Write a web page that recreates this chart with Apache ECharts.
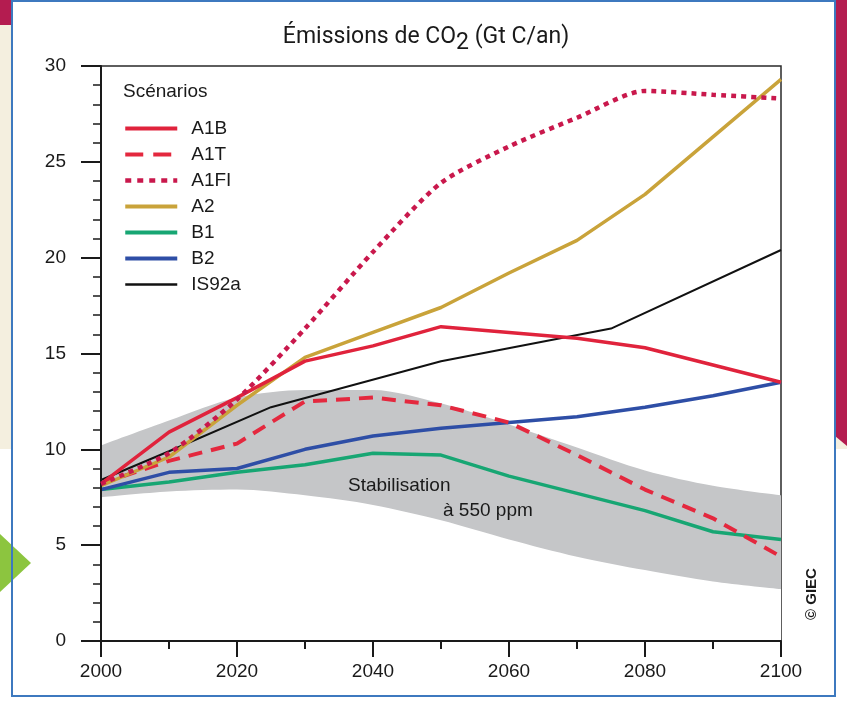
<!DOCTYPE html>
<html>
<head>
<meta charset="utf-8">
<script src="https://cdn.jsdelivr.net/npm/echarts@6/dist/echarts.min.js"></script>
<style>
html,body{margin:0;padding:0;background:#fff;}
#chart{width:847px;height:701px;}
</style>
</head>
<body>
<div id="chart"></div>
<script>
// ---- Data ----
const years = [2000, 2010, 2020, 2030, 2040, 2050, 2060, 2070, 2080, 2090, 2100];
const A1B  = [8.2, 10.9, 12.7, 14.6, 15.4, 16.4, 16.1, 15.8, 15.3, 14.4, 13.5];
const A1T  = [8.2, 9.4, 10.3, 12.5, 12.7, 12.3, 11.4, 9.7, 7.9, 6.4, 4.4];
const A1FI = [8.2, 9.8, 12.6, 16.3, 20.3, 23.9, 25.8, 27.3, 28.7, 28.5, 28.3];
const A2   = [8.1, 9.6, 12.3, 14.8, 16.1, 17.4, 19.2, 20.9, 23.3, 26.3, 29.3];
const B1   = [7.9, 8.3, 8.8, 9.2, 9.8, 9.7, 8.6, 7.7, 6.8, 5.7, 5.3];
const B2   = [7.9, 8.8, 9.0, 10.0, 10.7, 11.1, 11.4, 11.7, 12.2, 12.8, 13.5];
const isYears = [2000, 2010, 2025, 2050, 2075, 2100];
const IS92a = [8.4, 9.9, 12.2, 14.6, 16.3, 20.4];
const bandLower = [7.5, 7.8, 7.9, 7.6, 7.1, 6.3, 5.3, 4.4, 3.7, 3.1, 2.7];
const bandUpper = [10.2, 11.5, 12.7, 13.1, 13.1, 12.4, 11.3, 10.1, 8.9, 8.1, 7.6];
const yTicks = [0, 5, 10, 15, 20, 25, 30];
const xTicks = [2000, 2020, 2040, 2060, 2080, 2100];
const legendNames = ['A1B', 'A1T', 'A1FI', 'A2', 'B1', 'B2', 'IS92a'];

const pairs = (xs, ys) => xs.map((x, i) => [x, ys[i]]);

const FONT = 'Liberation Sans, Arial, Helvetica, sans-serif';
const NARROW = 'Liberation Sans Narrow, Roboto, sans-serif';
const chart = echarts.init(document.getElementById('chart'), null, {renderer: 'canvas'});

const legendStyle = {
  A1B: {width: 4}, A1T: {width: 4, type: [18, 10]}, A1FI: {width: 4.5, type: [6, 6]},
  A2: {width: 4}, B1: {width: 4}, B2: {width: 4}, IS92a: {width: 2.5}
};

const option = {
  animation: false,
  backgroundColor: '#ffffff',
  title: {
    text: '{a|Émissions de CO}{s|2}{a| (Gt C/an)}',
    left: 421, top: 11, textAlign: 'center',
    textStyle: {
      fontWeight: 'normal',
      rich: {
        a: {fontFamily: NARROW, fontSize: 23, fontWeight: 'normal', color: '#1a1a1a', height: 30},
        s: {fontFamily: NARROW, fontSize: 23, fontWeight: 'normal', color: '#1a1a1a', height: 30, padding: [12,0,0,0]}
      }
    }
  },
  grid: {left: 101, right: 66, top: 66, bottom: 60, show: true, borderColor: '#2a2a2a', borderWidth: 1.5, backgroundColor: 'transparent'},
  legend: {
    data: legendNames.map(n => ({name: n, lineStyle: legendStyle[n]})),
    orient: 'vertical', left: 118, top: 114,
    itemWidth: 52, itemHeight: 18, itemGap: 7,
    itemStyle: {opacity: 0},
    textStyle: {fontFamily: FONT, fontSize: 19, color: '#1a1a1a', padding: [0,0,0,9]},
    selectedMode: false
  },
  xAxis: {
    type: 'value', min: 2000, max: 2100, interval: 20, z: 5,
    axisLine: {onZero: false, lineStyle: {color: '#1a1a1a', width: 2}},
    axisTick: {show: true, length: 16, lineStyle: {color: '#1a1a1a', width: 2}},
    minorTick: {show: true, splitNumber: 2, length: 8, lineStyle: {color: '#1a1a1a', width: 2}},
    axisLabel: {fontFamily: FONT, fontSize: 19, color: '#1a1a1a', margin: 21,
      formatter: v => xTicks.includes(v) ? String(v) : ''},
    splitLine: {show: false}
  },
  yAxis: {
    type: 'value', min: 0, max: 30, interval: 5, z: 5,
    axisLine: {show: true, lineStyle: {color: '#1a1a1a', width: 2}},
    axisTick: {show: true, length: 20, lineStyle: {color: '#1a1a1a', width: 2}},
    minorTick: {show: true, splitNumber: 5, length: 8, lineStyle: {color: '#1a1a1a', width: 1.5}},
    axisLabel: {fontFamily: FONT, fontSize: 19, color: '#1a1a1a', margin: 35,
      formatter: v => yTicks.includes(v) ? String(v) : ''},
    splitLine: {show: false}
  },
  series: [
    // stabilisation band: gray area down from upper bound, then white area below lower bound
    {name: 'bandHigh', type: 'line', smooth: 0.3, symbol: 'none', silent: true,
     data: pairs(years, bandUpper), lineStyle: {width: 0, opacity: 0},
     areaStyle: {color: '#c5c6c8', opacity: 1}, z: 1},
    {name: 'bandLow', type: 'line', smooth: 0.3, symbol: 'none', silent: true,
     data: pairs(years, bandLower), lineStyle: {width: 0, opacity: 0},
     areaStyle: {color: '#ffffff', opacity: 1}, z: 1},
    {name: 'B1', type: 'line', symbol: 'none', data: pairs(years, B1), color: '#17a673', lineStyle: {width: 3.5, color: '#17a673'}, z: 3},
    {name: 'B2', type: 'line', symbol: 'none', data: pairs(years, B2), color: '#2e4ea6', lineStyle: {width: 3.5, color: '#2e4ea6'}, z: 3},
    {name: 'IS92a', type: 'line', symbol: 'none', data: pairs(isYears, IS92a), color: '#111111', lineStyle: {width: 2, color: '#111111'}, z: 3},
    {name: 'A1T', type: 'line', symbol: 'none', data: pairs(years, A1T), color: '#e4283e', lineStyle: {width: 4, color: '#e4283e', type: [14, 9]}, z: 4},
    {name: 'A2', type: 'line', symbol: 'none', data: pairs(years, A2), color: '#c9a33a', lineStyle: {width: 3.5, color: '#c9a33a'}, z: 4},
    {name: 'A1B', type: 'line', symbol: 'none', data: pairs(years, A1B), color: '#e0233c', lineStyle: {width: 3.5, color: '#e0233c'}, z: 4},
    {name: 'A1FI', type: 'line', symbol: 'none', smooth: 0.25, data: pairs(years, A1FI), color: '#c9184c', lineStyle: {width: 4.5, color: '#c9184c', type: [5, 5]}, z: 5}
  ],
  graphic: [
    // background decorations (outside the white panel)
    {type: 'polygon', shape: {points: [[0,0],[12,0],[12,28],[0,25]]}, style: {fill: '#b41c50'}},
    {type: 'rect', shape: {x: 0, y: 25, width: 12, height: 424}, style: {fill: '#f4efdf'}},
    {type: 'polygon', shape: {points: [[0,534],[31,563],[0,592]]}, style: {fill: '#8cc53f'}},
    {type: 'rect', shape: {x: 835, y: 0, width: 12, height: 449}, style: {fill: '#f4efdf'}},
    {type: 'polygon', shape: {points: [[835,0],[847,0],[847,446],[835,436]]}, style: {fill: '#b41c50'}},
    {type: 'rect', shape: {x: 12, y: 1, width: 823, height: 695}, style: {fill: 'transparent', stroke: '#3d79bf', lineWidth: 2}},
    // annotations
    {type: 'text', left: 123, top: 82, style: {text: 'Scénarios', font: '19px ' + FONT, fill: '#1a1a1a'}},
    {type: 'text', left: 348, top: 476, z: 10, style: {text: 'Stabilisation', font: '19px ' + FONT, fill: '#1a1a1a'}},
    {type: 'text', left: 443, top: 501, z: 10, style: {text: 'à 550 ppm', font: '19px ' + FONT, fill: '#1a1a1a'}},
    {type: 'text', x: 804, y: 620, rotation: Math.PI / 2, z: 10,
     style: {text: '© GIEC', font: 'bold 15px ' + FONT, fill: '#1a1a1a'}}
  ]
};
chart.setOption(option);
</script>
</body>
</html>
